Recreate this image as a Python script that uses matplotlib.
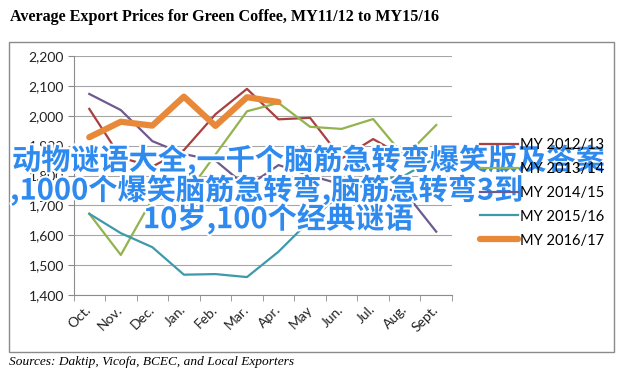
import matplotlib.pyplot as plt
import matplotlib.patheffects as pe
import numpy as np
from matplotlib.patches import Rectangle
from matplotlib.ticker import FuncFormatter

months = ["Oct.", "Nov.", "Dec.", "Jan.", "Feb.", "Mar.", "Apr.", "May",
          "Jun.", "Jul.", "Aug.", "Sept."]
my1213 = [2023, 1860, 1830, 1885, 2005, 2090, 1988, 1993, 1857, 1922, 1862, 1765]
my1314 = [1672, 1534, 1722, 1725, 1870, 2015, 2043, 1963, 1956, 1989, 1862, 1969]
my1415 = [2073, 2019, 1915, 1872, 1850, 1762, 1835, 1800, 1770, 1760, 1745, 1612]
my1516 = [1672, 1607, 1560, 1468, 1470, 1460, 1545, 1650, 1740, 1780, 1800, 1860]
my1617 = [1928, 1980, 1967, 2064, 1966, 2062, 2046]

title = "Average Export Prices for Green Coffee, MY11/12 to MY15/16"
source = "Sources: Daktip, Vicofa, BCEC, and Local Exporters"
overlay = ["动物谜语大全,一千个脑筋急转弯爆笑版及答案",
           ",1000个爆笑脑筋急转弯,脑筋急转弯3到",
           "10岁,100个经典谜语"]

plt.rcParams['font.family'] = ['Lato', 'DejaVu Sans']

fig = plt.figure(figsize=(6.28, 3.72), dpi=100)
ax = fig.add_axes([73.5 / 628, 1 - 295 / 372, (452 - 73.5) / 628, (295 - 56) / 372])

x = np.arange(len(months))
ax.plot(x, my1213, color="#A8403F", lw=1.6, label="MY 2012/13")
ax.plot(x, my1314, color="#92B34E", lw=1.6, label="MY 2013/14")
ax.plot(x, my1415, color="#6E5A8E", lw=1.6, label="MY 2014/15")
ax.plot(x, my1516, color="#3E9AAA", lw=1.6, label="MY 2015/16")
ax.plot(x[:len(my1617)], my1617, color="#E8893A", lw=4.5,
        solid_capstyle="round", solid_joinstyle="round", label="MY 2016/17")

ax.set_xlim(-0.5, 11.5)
ax.set_ylim(1400, 2200)
ax.set_yticks(range(1400, 2201, 100))
ax.yaxis.set_major_formatter(FuncFormatter(lambda v, p: f"{int(v):,}"))
ax.set_xticks(x)
ax.set_xticklabels(months, rotation=45, ha="right", va="center",
                   rotation_mode="anchor")
ax.set_xticks(np.arange(-0.5, 12, 1), minor=True)
ax.tick_params(axis="x", which="major", length=0, pad=9, labelsize=10, labelcolor="#222222")
ax.tick_params(axis="x", which="minor", length=4, color="#8c8c8c")
ax.tick_params(axis="y", length=4, color="#8c8c8c", labelsize=10, labelcolor="#222222", pad=3)
ax.grid(axis="y", color="#a6a6a6", lw=0.8)
ax.set_axisbelow(True)
for s in ["top", "right"]:
    ax.spines[s].set_visible(False)
for s in ["left", "bottom"]:
    ax.spines[s].set_color("#8c8c8c")

fig.legend(loc="upper left", bbox_to_anchor=(474 / 628, 1 - 132 / 372),
           frameon=False, fontsize=10.5, handlelength=2.6, handletextpad=0.15,
           labelspacing=0.68, borderaxespad=0)

fig.add_artist(Rectangle((9 / 628, 1 - 352 / 372), (614 - 9) / 628, (352 - 42) / 372,
                         transform=fig.transFigure, fill=False, ec="#8a8a8a", lw=1))

fig.text(10 / 628, 1 - 17 / 372, title, family="Liberation Serif", weight="bold",
         fontsize=11.6, va="center")
fig.text(9 / 628, 1 - 362 / 372, source, family="Liberation Serif", style="italic",
         fontsize=9.6, va="center")

cjk = ["Noto Sans CJK SC", "DejaVu Sans"]
for txt, tx, ty in zip(overlay, [12, 10, 143], [160, 190, 219]):
    fig.text(tx / 628, 1 - ty / 372, txt, family=cjk, color="#2E8AEE", weight="bold",
             fontsize=21, va="center",
             path_effects=[pe.withStroke(linewidth=3, foreground="white")])

fig.savefig("out.png", dpi=100)
